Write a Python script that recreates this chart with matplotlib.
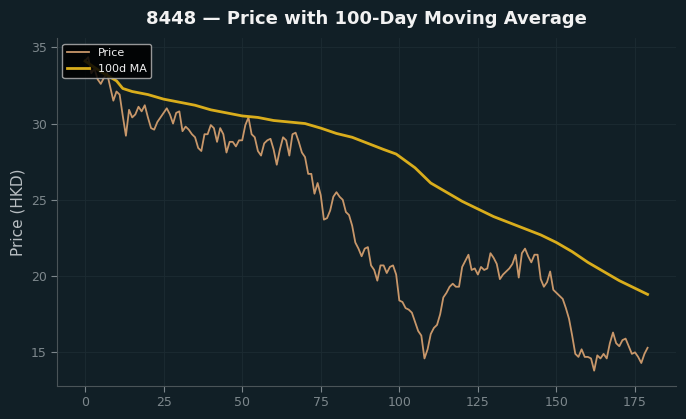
import numpy as np
import matplotlib.pyplot as plt

# daily closing prices, day 0..179
price = [
    34.1, 34.35, 33.3, 33.6, 32.9, 32.6, 33.0, 33.3, 32.4, 31.5,
    32.1, 31.9, 30.5, 29.2, 30.9, 30.4, 30.6, 31.1, 30.8, 31.2,
    30.4, 29.7, 29.6, 30.1, 30.4, 30.7, 31.0, 30.6, 30.0, 30.7,
    30.8, 29.5, 29.8, 29.6, 29.3, 29.1, 28.4, 28.2, 29.3, 29.3,
    29.9, 29.7, 28.8, 29.7, 29.3, 28.1, 28.8, 28.8, 28.5, 28.9,
    28.9, 29.9, 30.4, 29.3, 29.1, 28.2, 27.9, 28.7, 28.9, 29.0,
    28.3, 27.3, 28.3, 29.1, 28.9, 27.9, 29.3, 29.4, 28.8, 28.1,
    27.8, 26.7, 26.7, 25.4, 26.1, 25.3, 23.7, 23.8, 24.3, 25.2,
    25.5, 25.2, 25.0, 24.2, 24.0, 23.3, 22.2, 21.8, 21.3, 21.8,
    21.9, 20.7, 20.4, 19.7, 20.7, 20.7, 20.2, 20.6, 20.7, 20.1,
    18.4, 18.3, 17.9, 17.8, 17.6, 17.0, 16.4, 16.1, 14.6, 15.2,
    16.2, 16.6, 16.8, 17.5, 18.6, 18.9, 19.3, 19.5, 19.3, 19.3,
    20.6, 21.0, 21.4, 20.4, 20.5, 20.1, 20.6, 20.4, 20.5, 21.5,
    21.2, 20.8, 19.8, 20.1, 20.3, 20.5, 20.8, 21.4, 19.9, 21.5,
    21.8, 21.3, 20.9, 21.4, 21.4, 19.8, 19.3, 19.6, 20.3, 19.1,
    18.9, 18.7, 18.5, 17.9, 17.2, 16.1, 14.9, 14.7, 15.2, 14.7,
    14.7, 14.6, 13.8, 14.8, 14.6, 14.9, 14.6, 15.6, 16.3, 15.6,
    15.4, 15.8, 15.9, 15.4, 14.9, 15.0, 14.7, 14.3, 14.9, 15.3,
]
days = np.arange(len(price))

# 100-day moving average at these days
ma_days = [0, 5, 10, 12, 15, 20, 25, 30, 35, 40, 45, 50, 55, 60, 65, 70,
           75, 80, 85, 90, 95, 99, 105, 110, 115, 120, 125, 130, 135, 140,
           145, 150, 155, 160, 165, 170, 175, 179]
ma_vals = [34.1, 33.4, 32.8, 32.3, 32.1, 31.9, 31.6, 31.4, 31.2, 30.9,
           30.7, 30.5, 30.4, 30.2, 30.1, 30.0, 29.7, 29.35, 29.1, 28.7,
           28.3, 28.0, 27.1, 26.1, 25.5, 24.9, 24.4, 23.9, 23.5, 23.1,
           22.7, 22.2, 21.6, 20.9, 20.3, 19.7, 19.2, 18.8]

bg = "#111f26"
fig = plt.figure(figsize=(6.86, 4.19), dpi=100, facecolor=bg)
ax = fig.add_axes([0.083, 0.079, 0.902, 0.83], facecolor=bg)

ax.plot(days, price, color="#c8976a", linewidth=1.3, label="Price")
ax.plot(ma_days, ma_vals, color="#d9ad1c", linewidth=2.0, label="100d MA")

ax.set_title("8448 — Price with 100-Day Moving Average", color="#f2f2f2",
             fontsize=13, fontweight="bold", pad=10)
ax.set_ylabel("Price (HKD)", color="#b8bec2", fontsize=11)
ax.set_xticks([0, 25, 50, 75, 100, 125, 150, 175])
ax.set_yticks([15, 20, 25, 30, 35])
ax.set_xlim(-8.95, 187.95)
ax.set_ylim(12.8, 35.6)
ax.tick_params(colors="#7d878c", labelsize=9, length=4)
ax.grid(True, color="#1c2b32", linewidth=0.6)
for side in ["top", "right"]:
    ax.spines[side].set_visible(False)
for side in ["left", "bottom"]:
    ax.spines[side].set_color("#4a5458")

leg = ax.legend(loc="upper left", fontsize=8, facecolor="#000000",
                edgecolor="#b0b0b0", framealpha=0.85, labelcolor="#f0f0f0")

plt.savefig("out.png", dpi=100, facecolor=bg)
